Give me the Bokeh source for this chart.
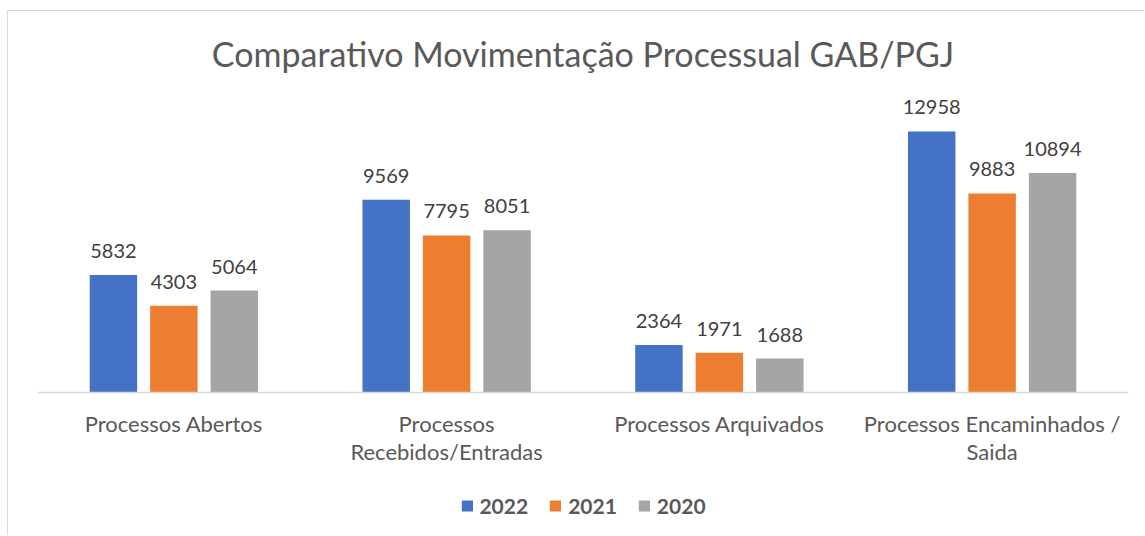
from bokeh.plotting import figure
from bokeh.layouts import column
from bokeh.models import ColumnDataSource, LabelSet, Legend, LegendItem, FactorRange, Range1d, CustomJSTickFormatter
from bokeh.core.properties import value
from bokeh.transform import dodge
from bokeh.embed import file_html
from bokeh.resources import INLINE

categories = ["Processos Abertos", "Processos Recebidos/Entradas", "Processos Arquivados", "Processos Encaminhados / Saida"]
category_labels = ["Processos Abertos", "Processos\nRecebidos/Entradas", "Processos Arquivados", "Processos Encaminhados /\nSaida"]
series_names = ["2022", "2021", "2020"]
values_2022 = [5832, 9569, 2364, 12958]
values_2021 = [4303, 7795, 1971, 9883]
values_2020 = [5064, 8051, 1688, 10894]
colors = ["#4472C4", "#ED7D31", "#A5A5A5"]

FONT = "Lato"

p = figure(x_range=FactorRange(*categories, range_padding=0), y_range=Range1d(0, 15490),
           width=1136, height=470, output_backend="svg", toolbar_location=None,
           y_axis_location=None, min_border_left=29, min_border_right=16,
           min_border_top=69, min_border_bottom=89,
           title="Comparativo Movimentação Processual GAB/PGJ")
p.outline_line_color = None
p.xgrid.visible = False
p.ygrid.visible = False

p.title.align = "center"
p.title.text_font = FONT
p.title.text_font_size = "34px"
p.title.text_font_style = "normal"
p.title.text_color = "#595959"
p.title.standoff = 13

ax = p.xaxis[0]
ax.major_tick_line_color = None
ax.minor_tick_line_color = None
ax.major_label_text_font = FONT
ax.major_label_text_font_size = "22px"
ax.major_label_text_color = "#595959"
ax.major_label_text_line_height = 1.05
ax.major_label_standoff = 11
ax.axis_line_color = "#d9d9d9"
ax.axis_line_width = 1.5
ax.formatter = CustomJSTickFormatter(args=dict(labels=dict(zip(categories, category_labels))),
                                     code="return labels[tick] || tick;")

offsets = [-0.2216, 0.0, 0.2216]
all_values = [values_2022, values_2021, values_2020]
sources = []
for name, vals, col, off in zip(series_names, all_values, colors, offsets):
    src = ColumnDataSource(dict(cat=categories, val=vals, txt=[str(v) for v in vals]))
    sources.append(src)
    p.vbar(x=dodge("cat", off, range=p.x_range), top="val", bottom=0, width=0.174,
           source=src, fill_color=col, line_color=None)
    lbl = LabelSet(x=dodge("cat", off, range=p.x_range), y="val", text="txt", source=src,
                   text_align="center", text_baseline="alphabetic", y_offset=17,
                   text_font=value(FONT), text_font_size="20px", text_color="#404040")
    p.add_layout(lbl)

# legend strip below the chart (its renderers are hidden; only the legend swatches show)
p2 = figure(x_range=FactorRange(*categories, range_padding=0), y_range=Range1d(0, 15490),
            width=1136, height=54, output_backend="svg", toolbar_location=None,
            x_axis_location=None, y_axis_location=None,
            min_border_left=22, min_border_right=0, min_border_top=0, min_border_bottom=6)
p2.outline_line_color = None
p2.xgrid.visible = False
p2.ygrid.visible = False
items = []
for name, src, col in zip(series_names, sources, colors):
    r = p2.vbar(x="cat", top="val", bottom=0, width=0.174, source=src,
                fill_color=col, line_color=None)
    r.visible = False
    items.append(LegendItem(label=name, renderers=[r]))
legend = Legend(items=items, orientation="horizontal", location="center",
                glyph_width=14, glyph_height=14, label_standoff=6, spacing=20,
                padding=0, margin=0, border_line_color=None, background_fill_alpha=0,
                label_text_font=FONT, label_text_font_size="21px", label_text_font_style="bold",
                label_text_color="#595959", label_text_baseline="middle")
p2.add_layout(legend, "center")

layout = column(p, p2, spacing=0)
layout.margin = (10, 0, 0, 7)
layout.styles = {"border-top": "1px solid #d9d9d9", "border-left": "1px solid #d9d9d9"}

open("out.html", "w").write(file_html(layout, INLINE))
